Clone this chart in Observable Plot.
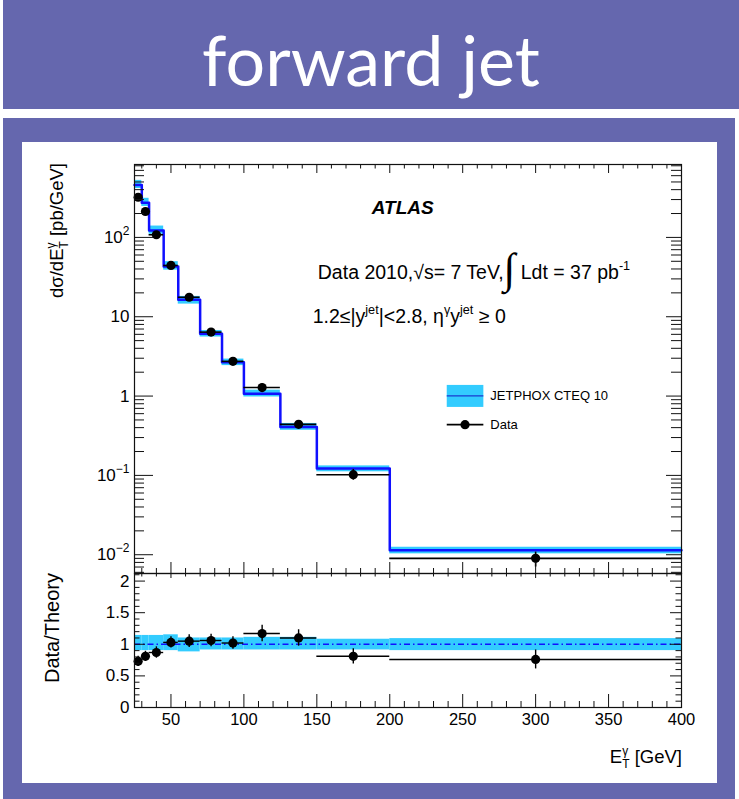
<!DOCTYPE html>
<html>
<head>
<meta charset="utf-8">
<script src="https://cdn.jsdelivr.net/npm/d3@7"></script>
<script src="https://cdn.jsdelivr.net/npm/@observablehq/plot@0.6"></script>
<style>
  html, body { margin: 0; padding: 0; background: #fff; }
  body { width: 739px; height: 799px; position: relative; overflow: hidden; font-family: "Liberation Sans", Arial, sans-serif; }
  #banner { position: absolute; left: 3px; top: 0; width: 736px; height: 109px; background: #6567ae; }
  #banner div { margin-top: 17px; line-height: 84px; font-family: Lato, "Open Sans", sans-serif; font-size: 70px; color: #fff; text-align: center; }
  #frame { position: absolute; left: 3px; top: 118px; width: 732px; height: 681px; background: #6567ae; }
  #panel { position: absolute; left: 22px; top: 142px; width: 695px; height: 641px; background: #fff; }
  svg.chart { position: absolute; left: 0; }
</style>
</head>
<body>
<div id="banner"><div>forward jet</div></div>
<div id="frame"></div>
<div id="panel"></div>
<script>
// ---------------- data ----------------
const binLo      = [25, 30, 35, 45, 55, 70, 85, 100, 125, 150, 200];
const binHi      = [30, 35, 45, 55, 70, 85, 100, 125, 150, 200, 400];
const binCenter  = [27.5, 32.5, 40, 50, 62.5, 77.5, 92.5, 112.5, 137.5, 175, 300];
const dataXsec   = [321, 212, 108, 44.3, 17.6, 6.4, 2.74, 1.28, 0.44, 0.102, 0.0090];
const dataXsecLo = [295, 194, 98, 40.5, 16.0, 5.8, 2.48, 1.13, 0.39, 0.087, 0.0070];
const dataXsecHi = [348, 230, 118, 48.2, 19.2, 7.0, 3.00, 1.43, 0.49, 0.119, 0.0108];
const theoryXsec = [459, 273, 122, 43, 16.4, 6.1, 2.66, 1.07, 0.407, 0.122, 0.0114];
const bandLo     = [0.90, 0.90, 0.90, 0.90, 0.88, 0.91, 0.91, 0.91, 0.91, 0.91, 0.90];
const bandHi     = [1.14, 1.14, 1.14, 1.15, 1.10, 1.10, 1.10, 1.11, 1.11, 1.08, 1.09];
const ratio      = [0.73, 0.81, 0.87, 1.03, 1.05, 1.06, 1.02, 1.17, 1.10, 0.81, 0.76];
const ratioErr   = [0.08, 0.08, 0.09, 0.09, 0.10, 0.10, 0.10, 0.13, 0.13, 0.12, 0.15];

const xMajorTicks   = [50, 100, 150, 200, 250, 300, 350, 400];
const xTickLabels   = ["50", "100", "150", "200", "250", "300", "350", "400"];
const yDecadeTicks  = [0.01, 0.1, 1, 10, 100];
const yDecadeLabels = ["10^-2", "10^-1", "1", "10", "10^2"];
const ratioTicks    = [0, 0.5, 1, 1.5, 2];
const ratioLabels   = ["0", "0.5", "1", "1.5", "2"];

const legendTheory = "JETPHOX CTEQ 10";
const legendData   = "Data";

// ---------------- derived tables ----------------
const bins = binLo.map((lo, i) => ({
  lo, hi: binHi[i], xc: binCenter[i],
  data: dataXsec[i], dLo: dataXsecLo[i], dHi: dataXsecHi[i],
  th: theoryXsec[i], bLo: bandLo[i], bHi: bandHi[i],
  r: ratio[i], re: ratioErr[i]
}));
const stepPts = bins.map(b => ({x: b.lo, y: b.th})).concat([{x: binHi[binHi.length - 1], y: theoryXsec[theoryXsec.length - 1]}]);

const xMinor = d3.range(30, 401, 10).filter(v => v % 50 !== 0);
const yMinorLog = [];
for (let e = -3; e <= 2; e++) for (let k = 2; k <= 9; k++) {
  const v = +(k * Math.pow(10, e)).toPrecision(3);
  if (v > 0.0058 && v < 830) yMinorLog.push(v);
}
const ratioMinor = d3.range(1, 22).filter(i => i % 5 !== 0).map(i => i / 10);

// ---------------- layout ----------------
const W = 717, ML = 134, MR = 36;
const PW = W - ML - MR;              // 547
const TOP_SVG_Y = 142, TOP_MT = 22, TOP_MB = 1, TOP_H = 432;
const TOP_PH = TOP_H - TOP_MT - TOP_MB; // 409
const RAT_SVG_Y = 560, RAT_MT = 13, RAT_MB = 76, RAT_H = 223;
const RAT_PH = RAT_H - RAT_MT - RAT_MB; // 134

const FONT = '"Liberation Sans", Arial, Helvetica, sans-serif';
const AXIS = "#111";
const CYAN = "#33ccff";
const BLUE = "#1010ff";

function xTicks(vals, len, plotH, edge) {
  const o = {x: d => d, stroke: AXIS, strokeWidth: 1};
  if (edge === "bottom") o.insetTop = plotH - len; else o.insetBottom = plotH - len;
  return Plot.tickX(vals, o);
}
function yTicks(vals, len, edge) {
  const o = {y: d => d, stroke: AXIS, strokeWidth: 1};
  if (edge === "left") o.insetRight = PW - len; else o.insetLeft = PW - len;
  return Plot.tickY(vals, o);
}

// ---------------- top panel ----------------
const topChart = Plot.plot({
  width: W, height: TOP_H,
  marginLeft: ML, marginRight: MR, marginTop: TOP_MT, marginBottom: TOP_MB,
  x: {domain: [25, 400], axis: null},
  y: {type: "log", domain: [0.0058, 830]},
  style: {fontFamily: FONT, fontSize: "17px", background: "transparent", overflow: "visible"},
  marks: [
    Plot.rect(bins, {x1: "lo", x2: "hi", y1: d => d.th * d.bLo, y2: d => d.th * d.bHi, fill: CYAN}),
    Plot.line(stepPts, {x: "x", y: "y", curve: "step-after", stroke: BLUE, strokeWidth: 2.5}),
    Plot.ruleY(bins, {y: "data", x1: "lo", x2: "hi", stroke: "#000", strokeWidth: 1.6}),
    Plot.ruleX(bins, {x: "xc", y1: "dLo", y2: "dHi", stroke: "#000", strokeWidth: 1.6}),
    Plot.dot(bins, {x: "xc", y: "data", r: 4.6, fill: "#000", stroke: "none"}),
    xTicks(xMajorTicks, 11, TOP_PH, "bottom"),
    xTicks(xMinor, 5, TOP_PH, "bottom"),
    xTicks(xMajorTicks, 9, TOP_PH, "top"),
    xTicks(xMinor, 4.5, TOP_PH, "top"),
    yTicks(yDecadeTicks, 19, "left"),
    yTicks(yMinorLog, 10, "left"),
    yTicks(yDecadeTicks, 15, "right"),
    yTicks(yMinorLog, 10, "right"),
    Plot.axisY({ticks: yDecadeTicks, tickSize: 0, tickPadding: 5, label: null,
      tickFormat: d => yDecadeLabels[yDecadeTicks.indexOf(d)], fontSize: 17}),
    Plot.frame({stroke: AXIS, strokeWidth: 1.2})
  ]
});
topChart.classList.add("chart");
topChart.style.top = TOP_SVG_Y + "px";
document.body.appendChild(topChart);

// ---------------- ratio panel ----------------
const ratChart = Plot.plot({
  width: W, height: RAT_H,
  marginLeft: ML, marginRight: MR, marginTop: RAT_MT, marginBottom: RAT_MB,
  x: {domain: [25, 400]},
  y: {domain: [0, 2.12]},
  style: {fontFamily: FONT, fontSize: "17px", background: "transparent", overflow: "visible"},
  marks: [
    Plot.rect(bins, {x1: "lo", x2: "hi", y1: "bLo", y2: "bHi", fill: CYAN}),
    Plot.ruleY([1], {stroke: BLUE, strokeWidth: 1.5, strokeDasharray: "6,3,1.5,3"}),
    Plot.ruleY(bins, {y: "r", x1: "lo", x2: "hi", stroke: "#000", strokeWidth: 1.4}),
    Plot.ruleX(bins, {x: "xc", y1: d => d.r - d.re, y2: d => d.r + d.re, stroke: "#000", strokeWidth: 1.4}),
    Plot.dot(bins, {x: "xc", y: "r", r: 4.6, fill: "#000", stroke: "none"}),
    xTicks(xMajorTicks, 13, RAT_PH, "bottom"),
    xTicks(xMinor, 6, RAT_PH, "bottom"),
    xTicks(xMajorTicks, 5, RAT_PH, "top"),
    xTicks(xMinor, 3.5, RAT_PH, "top"),
    yTicks(ratioTicks, 11, "left"),
    yTicks(ratioMinor, 5.5, "left"),
    yTicks(ratioTicks, 11, "right"),
    yTicks(ratioMinor, 5.5, "right"),
    Plot.axisY({ticks: ratioTicks, tickSize: 0, tickPadding: 5, label: null,
      tickFormat: d => ratioLabels[ratioTicks.indexOf(d)], fontSize: 17}),
    Plot.axisX({ticks: xMajorTicks, tickSize: 0, tickPadding: 6, label: null,
      tickFormat: d => xTickLabels[xMajorTicks.indexOf(d)], fontSize: 16.5}),
    Plot.frame({stroke: AXIS, strokeWidth: 1.2})
  ]
});
ratChart.classList.add("chart");
ratChart.style.top = RAT_SVG_Y + "px";
document.body.appendChild(ratChart);

// ---------------- rich text helpers ----------------
function rich(sel, x, y, size, parts, opts = {}) {
  const t = sel.append("text")
    .attr("x", x).attr("y", y)
    .attr("font-size", size)
    .attr("font-family", FONT)
    .attr("fill", "#000")
    .attr("text-anchor", opts.anchor || "start");
  if (opts.transform) t.attr("transform", opts.transform);
  if (opts.weight) t.attr("font-weight", opts.weight);
  if (opts.style) t.attr("font-style", opts.style);
  let shift = 0;
  for (const p of parts) {
    const [s, kind, dx] = p;
    let target = 0, fs = size;
    if (kind === "sup") { target = -size * 0.45; fs = size * 0.65; }
    else if (kind === "sub") { target = size * 0.28; fs = size * 0.65; }
    else if (kind === "big") { target = size * 0.22; fs = size * 2.2; }
    const ts = t.append("tspan").text(s).attr("font-size", fs);
    if (target - shift !== 0) ts.attr("dy", target - shift);
    if (dx) ts.attr("dx", dx);
    if (kind === "big") ts.attr("font-family", "DejaVu Sans").attr("font-weight", 200);
    shift = target;
  }
  return t;
}

// log-axis tick labels "10^n" -> superscripts
d3.select(topChart).selectAll('g[aria-label="y-axis tick label"] text').each(function () {
  const s = this.textContent;
  if (s.includes("^")) {
    const [b, e] = s.split("^");
    const t = d3.select(this);
    t.text(null);
    t.append("tspan").text(b);
    t.append("tspan").text(e.replace("-", "\u2212")).attr("font-size", 12).attr("dy", -8);
  }
});

const gt = d3.select(topChart);
const gr = d3.select(ratChart);
const sx = topChart.scale("x"), sy = topChart.scale("y");

// y-axis titles
rich(gt, 0, 0, 18.5, [["d\u03c3/dE"], ["\u03b3", "sup"], ["T", "sub", -6], [" [pb/GeV]"]],
  {anchor: "end", transform: `translate(63,${TOP_MT - 1}) rotate(-90)`});
rich(gr, 0, 0, 20, [["Data/Theory"]],
  {anchor: "end", transform: `translate(59,${RAT_MT}) rotate(-90)`});
// x-axis title
rich(gr, W - MR + 1, RAT_MT + RAT_PH + 56, 18.5, [["E"], ["\u03b3", "sup"], ["T", "sub", -6], [" [GeV]"]], {anchor: "end"});

// annotations inside the top frame (positions given in data coordinates)
rich(gt, sx.apply(188), sy.apply(195), 19, [["ATLAS"]], {weight: "bold", style: "italic"});
rich(gt, sx.apply(151), sy.apply(29.5), 19.5,
  [["Data 2010,"], ["\u221as= 7 TeV,"], ["\u222b", "big"], [" Ldt = 37 pb"], ["-1", "sup"]]);
rich(gt, sx.apply(147.5), sy.apply(8.3), 19.5,
  [["1.2\u2264|y"], ["jet", "sup"], ["|<2.8, \u03b7"], ["\u03b3", "sup"], ["y"], ["jet", "sup"], [" \u2265 0"]]);

// legend
const lx0 = sx.apply(239.4), lx1 = sx.apply(264.5), ltx = sx.apply(269.3);
const ly1 = sy.apply(0.99), ly2 = sy.apply(0.43);
gt.append("rect").attr("x", lx0).attr("y", ly1 - 11).attr("width", lx1 - lx0).attr("height", 22).attr("fill", CYAN);
gt.append("line").attr("x1", lx0).attr("x2", lx1).attr("y1", ly1).attr("y2", ly1).attr("stroke", "#1a3ad0").attr("stroke-width", 1.2);
rich(gt, ltx, ly1 + 4.5, 13, [[legendTheory]]);
gt.append("line").attr("x1", lx0).attr("x2", lx1).attr("y1", ly2).attr("y2", ly2).attr("stroke", "#000").attr("stroke-width", 1.6);
gt.append("circle").attr("cx", (lx0 + lx1) / 2).attr("cy", ly2).attr("r", 4.6).attr("fill", "#000");
rich(gt, ltx, ly2 + 4.5, 13, [[legendData]]);
</script>
</body>
</html>
